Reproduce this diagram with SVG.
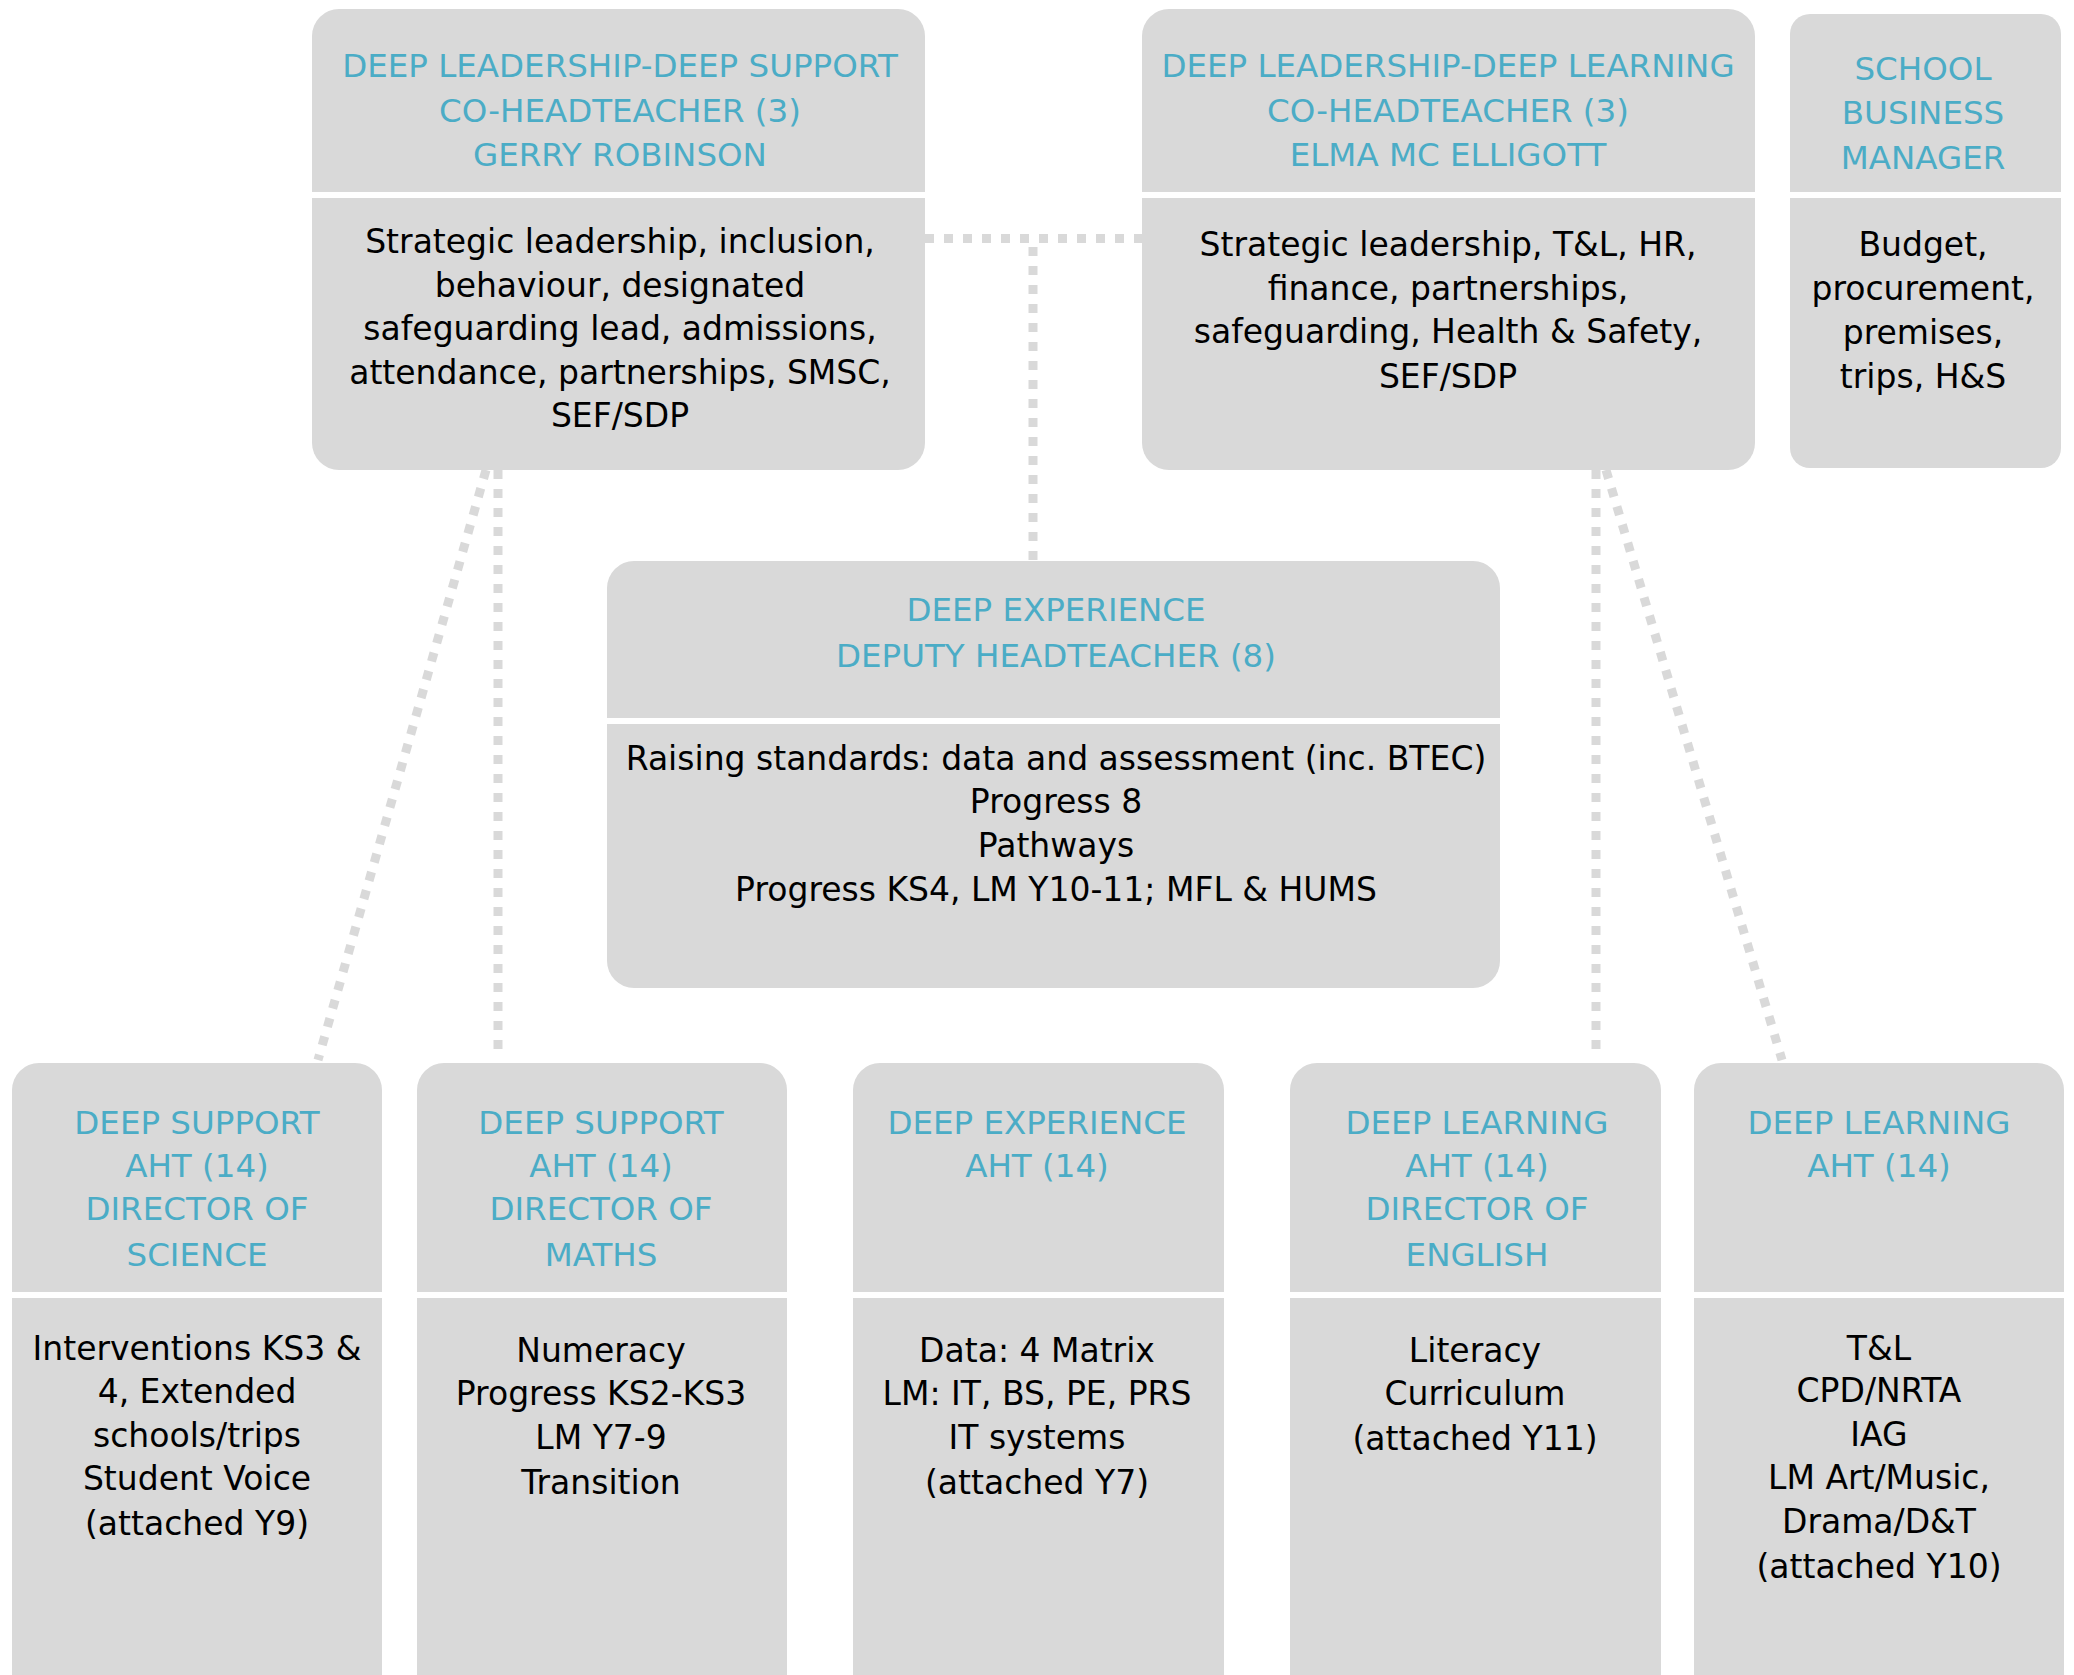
<svg xmlns="http://www.w3.org/2000/svg" width="2074" height="1675" viewBox="0 0 2074 1675">
<style>
.box{fill:#d9d9d9}
.dv{fill:#ffffff}
.t{font-family:"DejaVu Sans",sans-serif;font-size:32.5px;fill:#4bacc6;text-anchor:middle}
.b{font-family:"DejaVu Sans",sans-serif;font-size:33px;fill:#000000;text-anchor:middle}
.c{stroke:#d9d9d9;stroke-width:9;stroke-dasharray:9 10;fill:none}
</style>
<rect width="2074" height="1675" fill="#ffffff"/>
<g id="connectors">
<path class="c" d="M925 238.5 H1142"/>
<path class="c" d="M1033 247 V561"/>
<path class="c" d="M486 470 L318 1060"/>
<path class="c" d="M498 470 V1052"/>
<path class="c" d="M1596 470 V1052"/>
<path class="c" d="M1606 470 L1782 1060"/>
</g>
<g id="co-head-support">
<rect class="box" x="312" y="9" width="613" height="461" rx="27"/>
<rect class="dv" x="312" y="192" width="613" height="6"/>
<text class="t"><tspan x="620" y="77">DEEP LEADERSHIP-DEEP SUPPORT</tspan><tspan x="620" y="121.5">CO-HEADTEACHER (3)</tspan><tspan x="620" y="166">GERRY ROBINSON</tspan></text>
<text class="b"><tspan x="620" y="253">Strategic leadership, inclusion,</tspan><tspan x="620" y="296.5">behaviour, designated</tspan><tspan x="620" y="340">safeguarding lead, admissions,</tspan><tspan x="620" y="383.5">attendance, partnerships, SMSC,</tspan><tspan x="620" y="427">SEF/SDP</tspan></text>
</g>
<g id="co-head-learning">
<rect class="box" x="1142" y="9" width="613" height="461" rx="27"/>
<rect class="dv" x="1142" y="192" width="613" height="6"/>
<text class="t"><tspan x="1448" y="77">DEEP LEADERSHIP-DEEP LEARNING</tspan><tspan x="1448" y="121.5">CO-HEADTEACHER (3)</tspan><tspan x="1448" y="166">ELMA MC ELLIGOTT</tspan></text>
<text class="b"><tspan x="1448" y="256">Strategic leadership, T&amp;L, HR,</tspan><tspan x="1448" y="299.5">finance, partnerships,</tspan><tspan x="1448" y="343">safeguarding, Health &amp; Safety,</tspan><tspan x="1448" y="388">SEF/SDP</tspan></text>
</g>
<g id="business-manager">
<rect class="box" x="1790" y="14" width="271" height="454" rx="20"/>
<rect class="dv" x="1790" y="192" width="271" height="6"/>
<text class="t"><tspan x="1923" y="80">SCHOOL</tspan><tspan x="1923" y="124">BUSINESS</tspan><tspan x="1923" y="169">MANAGER</tspan></text>
<text class="b"><tspan x="1923" y="256">Budget,</tspan><tspan x="1923" y="300">procurement,</tspan><tspan x="1923" y="344">premises,</tspan><tspan x="1923" y="388">trips, H&amp;S</tspan></text>
</g>
<g id="deputy-head">
<rect class="box" x="607" y="561" width="893" height="427" rx="27"/>
<rect class="dv" x="607" y="718" width="893" height="6"/>
<text class="t"><tspan x="1056" y="621">DEEP EXPERIENCE</tspan><tspan x="1056" y="667">DEPUTY HEADTEACHER (8)</tspan></text>
<text class="b"><tspan x="1056" y="769.5">Raising standards: data and assessment (inc. BTEC)</tspan><tspan x="1056" y="813">Progress 8</tspan><tspan x="1056" y="856.5">Pathways</tspan><tspan x="1056" y="901">Progress KS4, LM Y10-11; MFL &amp; HUMS</tspan></text>
</g>
<g id="aht-science">
<rect class="box" x="12" y="1063" width="370" height="660" rx="27"/>
<rect class="dv" x="12" y="1292" width="370" height="6"/>
<text class="t"><tspan x="197" y="1134">DEEP SUPPORT</tspan><tspan x="197" y="1177">AHT (14)</tspan><tspan x="197" y="1220">DIRECTOR OF</tspan><tspan x="197" y="1266">SCIENCE</tspan></text>
<text class="b"><tspan x="197" y="1360">Interventions KS3 &amp;</tspan><tspan x="197" y="1403">4, Extended</tspan><tspan x="197" y="1447">schools/trips</tspan><tspan x="197" y="1490">Student Voice</tspan><tspan x="197" y="1535">(attached Y9)</tspan></text>
</g>
<g id="aht-maths">
<rect class="box" x="417" y="1063" width="370" height="660" rx="27"/>
<rect class="dv" x="417" y="1292" width="370" height="6"/>
<text class="t"><tspan x="601" y="1134">DEEP SUPPORT</tspan><tspan x="601" y="1177">AHT (14)</tspan><tspan x="601" y="1220">DIRECTOR OF</tspan><tspan x="601" y="1266">MATHS</tspan></text>
<text class="b"><tspan x="601" y="1362">Numeracy</tspan><tspan x="601" y="1405">Progress KS2-KS3</tspan><tspan x="601" y="1449">LM Y7-9</tspan><tspan x="601" y="1494">Transition</tspan></text>
</g>
<g id="aht-experience">
<rect class="box" x="853" y="1063" width="371" height="660" rx="27"/>
<rect class="dv" x="853" y="1292" width="371" height="6"/>
<text class="t"><tspan x="1037" y="1134">DEEP EXPERIENCE</tspan><tspan x="1037" y="1177">AHT (14)</tspan></text>
<text class="b"><tspan x="1037" y="1362">Data: 4 Matrix</tspan><tspan x="1037" y="1405">LM: IT, BS, PE, PRS</tspan><tspan x="1037" y="1449">IT systems</tspan><tspan x="1037" y="1494">(attached Y7)</tspan></text>
</g>
<g id="aht-english">
<rect class="box" x="1290" y="1063" width="371" height="660" rx="27"/>
<rect class="dv" x="1290" y="1292" width="371" height="6"/>
<text class="t"><tspan x="1477" y="1134">DEEP LEARNING</tspan><tspan x="1477" y="1177">AHT (14)</tspan><tspan x="1477" y="1220">DIRECTOR OF</tspan><tspan x="1477" y="1266">ENGLISH</tspan></text>
<text class="b"><tspan x="1475" y="1362">Literacy</tspan><tspan x="1475" y="1405">Curriculum</tspan><tspan x="1475" y="1450">(attached Y11)</tspan></text>
</g>
<g id="aht-learning">
<rect class="box" x="1694" y="1063" width="370" height="660" rx="27"/>
<rect class="dv" x="1694" y="1292" width="370" height="6"/>
<text class="t"><tspan x="1879" y="1134">DEEP LEARNING</tspan><tspan x="1879" y="1177">AHT (14)</tspan></text>
<text class="b"><tspan x="1879" y="1360">T&amp;L</tspan><tspan x="1879" y="1402">CPD/NRTA</tspan><tspan x="1879" y="1446">IAG</tspan><tspan x="1879" y="1489">LM Art/Music,</tspan><tspan x="1879" y="1533">Drama/D&amp;T</tspan><tspan x="1879" y="1578">(attached Y10)</tspan></text>
</g>
</svg>
